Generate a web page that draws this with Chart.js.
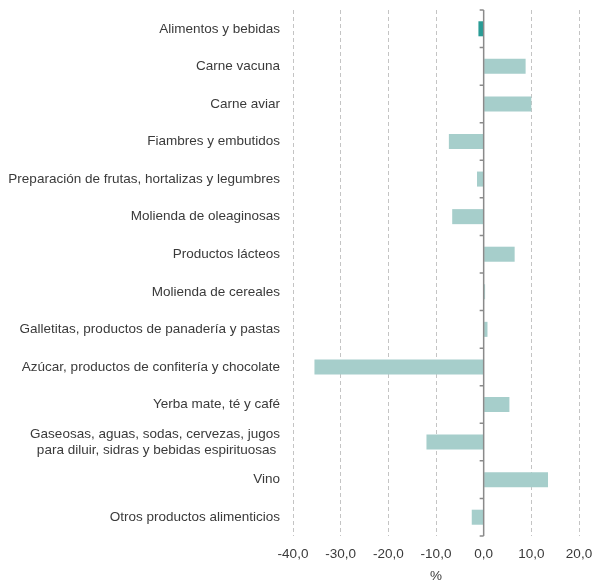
<!DOCTYPE html>
<html>
<head>
<meta charset="utf-8">
<script src="https://cdn.jsdelivr.net/npm/chart.js@4/dist/chart.umd.min.js"></script>
<style>
  html, body { margin: 0; padding: 0; background: #fff; }
  #wrap { width: 594px; height: 581px; }
</style>
</head>
<body>
<div id="wrap"><canvas id="c"></canvas></div>
<script>
// ---- data ----
const categories = [
  'Alimentos y bebidas',
  'Carne vacuna',
  'Carne aviar',
  'Fiambres y embutidos',
  'Preparación de frutas, hortalizas y legumbres',
  'Molienda de oleaginosas',
  'Productos lácteos',
  'Molienda de cereales',
  'Galletitas, productos de panadería y pastas',
  'Azúcar, productos de confitería y chocolate',
  'Yerba mate, té y café',
  ['Gaseosas, aguas, sodas, cervezas, jugos', 'para diluir, sidras y bebidas espirituosas '],
  'Vino',
  'Otros productos alimenticios'
];
const values = [-1.1, 8.8, 10.0, -7.3, -1.4, -6.6, 6.5, 0.3, 0.8, -35.5, 5.4, -12.0, 13.5, -2.5];
const xTicks = [-40, -30, -20, -10, 0, 10, 20];

const barColors = values.map((v, i) => i === 0 ? '#2a9c96' : '#a6cecb');
const FONT = { family: 'Liberation Sans', size: 13.5 };

// zero line with small ticks, like the original axis
const zeroLine = {
  id: 'zeroLine',
  afterDatasetsDraw(chart) {
    const { ctx, chartArea, scales } = chart;
    const x0 = scales.x.getPixelForValue(0);
    const y = scales.y;
    const step = (y.getPixelForValue(1) - y.getPixelForValue(0));
    ctx.save();
    ctx.strokeStyle = '#8a8a8a';
    ctx.lineWidth = 1.5;
    ctx.beginPath();
    ctx.moveTo(x0, chartArea.top);
    ctx.lineTo(x0, chartArea.bottom);
    for (let i = 0; i <= categories.length; i++) {
      const yy = y.getPixelForValue(0) - step / 2 + i * step;
      ctx.moveTo(x0 - 4, yy);
      ctx.lineTo(x0, yy);
    }
    ctx.stroke();
    ctx.restore();
  }
};

new Chart(document.getElementById('c'), {
  type: 'bar',
  data: {
    labels: categories,
    datasets: [{
      data: values,
      backgroundColor: barColors,
      borderWidth: 0,
      barPercentage: 0.4,
      categoryPercentage: 1
    }]
  },
  options: {
    indexAxis: 'y',
    responsive: true,
    maintainAspectRatio: false,
    animation: false,
    layout: { padding: { top: 10, right: 0, left: 6, bottom: 0 } },
    plugins: {
      legend: { display: false },
      tooltip: { enabled: false }
    },
    scales: {
      x: {
        min: -40,
        max: 20,
        afterBuildTicks: s => { s.ticks = xTicks.map(v => ({ value: v })); },
        afterFit: s => { s.paddingLeft = 0; s.paddingRight = 15; s.height = 45; },
        grid: {
          color: '#c4c4c4',
          lineWidth: 1,
          drawTicks: false
        },
        border: { display: false, dash: [4, 3] },
        ticks: {
          color: '#3a3a3a',
          font: FONT,
          padding: 10,
          callback: v => v.toFixed(1).replace('.', ',')
        },
        title: {
          display: true,
          text: '%',
          color: '#3a3a3a',
          font: FONT,
          padding: { top: 4, bottom: -3 }
        }
      },
      y: {
        afterFit: s => { s.paddingTop = 0; s.paddingBottom = 0; s.width = 287; },
        grid: { display: false },
        border: { display: false },
        ticks: {
          color: '#3a3a3a',
          font: FONT,
          padding: 5
        }
      }
    }
  },
  plugins: [zeroLine]
});
</script>
</body>
</html>
